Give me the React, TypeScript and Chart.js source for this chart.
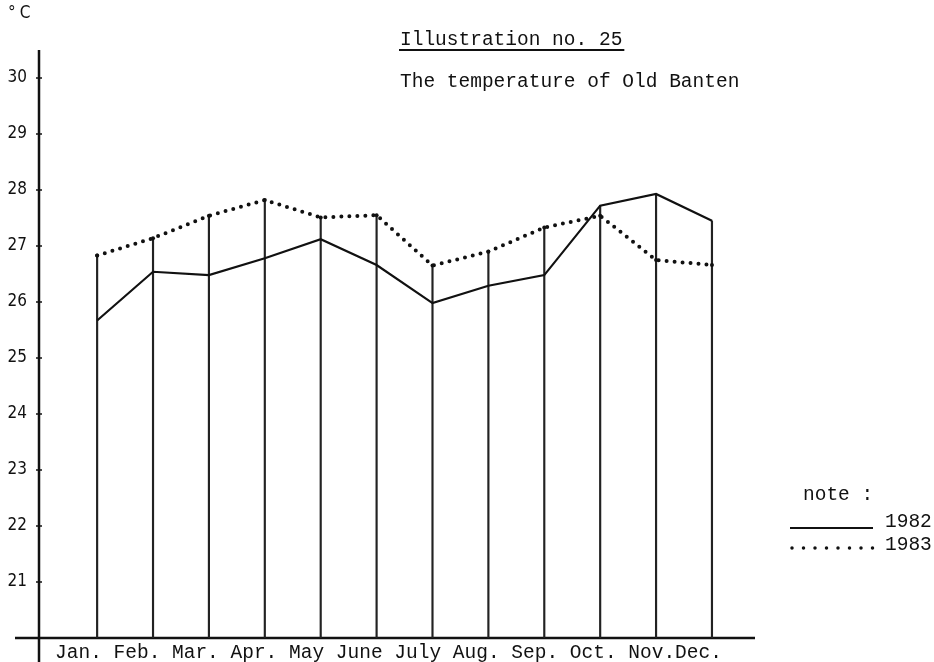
import React, { useEffect, useRef } from 'react';
import { Chart, registerables } from 'chart.js';

Chart.register(...registerables);

const MONTHS = ['Jan.', 'Feb.', 'Mar.', 'Apr.', 'May', 'June', 'July', 'Aug.', 'Sep.', 'Oct.', 'Nov.', 'Dec.'];
const TEMP_1982 = [25.67, 26.54, 26.48, 26.78, 27.12, 26.66, 25.98, 26.29, 26.48, 27.72, 27.93, 27.45];
const TEMP_1983 = [26.83, 27.14, 27.54, 27.82, 27.51, 27.55, 26.65, 26.9, 27.33, 27.54, 26.75, 26.66];
const Y_TICKS = [21, 22, 23, 24, 25, 26, 27, 28, 29, 30];
const SERIES_NAMES = ['1982', '1983'];
const TITLE = 'Illustration no. 25';
const SUBTITLE = 'The temperature of Old Banten';
const UNIT = '°C';
const LEGEND_HEAD = 'note :';
// the month labels were typed as one line on the original sheet
const TYPED_MONTH_LINE = 'Jan. Feb. Mar. Apr. May June July Aug. Sep. Oct. Nov.Dec.';

const MONO = '"Liberation Mono", "DejaVu Sans Mono", monospace';
const SANS = '"Liberation Sans Narrow", "DejaVu Sans Condensed", "Liberation Sans", sans-serif';
const INK = '#111';

// character-cell centre of each month label within the typed line
const labelCells: number[] = [];
{
  let from = 0;
  MONTHS.forEach((m) => {
    const idx = TYPED_MONTH_LINE.indexOf(m, from);
    labelCells.push(idx + m.length / 2);
    from = idx + m.length;
  });
}

const decorPlugin = {
  id: 'decor',
  beforeDatasetsDraw(chart: any) {
    const { ctx, chartArea, scales } = chart;
    const x0 = chartArea.left;
    const yb = chartArea.bottom;
    ctx.save();
    ctx.strokeStyle = INK;
    ctx.lineCap = 'butt';
    ctx.lineWidth = 2.5;
    ctx.beginPath();
    ctx.moveTo(x0, chartArea.top);
    ctx.lineTo(x0, chart.height);
    ctx.stroke();
    ctx.beginPath();
    ctx.moveTo(15, yb);
    ctx.lineTo(chartArea.right, yb);
    ctx.stroke();
    ctx.lineWidth = 1.5;
    Y_TICKS.forEach((v) => {
      const y = scales.y.getPixelForValue(v);
      ctx.beginPath();
      ctx.moveTo(x0 - 3, y);
      ctx.lineTo(x0 + 3, y);
      ctx.stroke();
    });
    ctx.restore();
  },
  afterDraw(chart: any) {
    const { ctx } = chart;
    ctx.save();
    ctx.fillStyle = INK;
    ctx.strokeStyle = INK;
    ctx.textBaseline = 'middle';
    ctx.textAlign = 'left';
    ctx.font = `17px ${SANS}`;
    (ctx as any).letterSpacing = '4px';
    ctx.fillText(UNIT, 8, 14);
    (ctx as any).letterSpacing = '0px';
    ctx.font = `19.5px ${MONO}`;
    ctx.fillText(TITLE, 400, 40);
    const tw = ctx.measureText(TITLE).width;
    ctx.lineWidth = 1.8;
    ctx.beginPath();
    ctx.moveTo(399, 50);
    ctx.lineTo(402 + tw, 50);
    ctx.stroke();
    ctx.fillText(SUBTITLE, 400, 82);
    ctx.fillText(LEGEND_HEAD, 803, 495);
    ctx.textBaseline = 'alphabetic';
    ctx.fillText(SERIES_NAMES[0], 885, 527);
    ctx.fillText(SERIES_NAMES[1], 885, 550);
    ctx.lineWidth = 2;
    ctx.beginPath();
    ctx.moveTo(790, 528);
    ctx.lineTo(873, 528);
    ctx.stroke();
    ctx.lineWidth = 3.5;
    ctx.lineCap = 'round';
    ctx.setLineDash([0, 11.5]);
    ctx.beginPath();
    ctx.moveTo(792, 548);
    ctx.lineTo(882, 548);
    ctx.stroke();
    ctx.restore();
  },
};

export default function App() {
  const ref = useRef<HTMLCanvasElement | null>(null);
  useEffect(() => {
    if (!ref.current) return;
    const chart = new Chart(ref.current, {
      type: 'line',
      data: {
        datasets: [
          {
            label: SERIES_NAMES[0],
            data: TEMP_1982.map((v, i) => ({ x: i, y: v })),
            borderColor: INK,
            borderWidth: 2.2,
            pointRadius: 0,
            tension: 0,
          },
          {
            label: SERIES_NAMES[1],
            data: TEMP_1983.map((v, i) => ({ x: i, y: v })),
            borderColor: INK,
            borderWidth: 4,
            borderDash: [0, 8],
            borderCapStyle: 'round',
            pointRadius: 2,
            pointBackgroundColor: INK,
            pointBorderWidth: 0,
            tension: 0,
          },
          {
            type: 'bar',
            label: 'drop',
            data: MONTHS.map((_, i) => ({ x: i, y: [20, Math.max(TEMP_1982[i], TEMP_1983[i])] })),
            backgroundColor: '#222',
            borderWidth: 0,
            barThickness: 1.5,
            grouped: false,
          } as any,
        ],
      },
      options: {
        animation: false,
        responsive: true,
        maintainAspectRatio: false,
        layout: { padding: { top: 50, right: 179, left: 0, bottom: 0 } },
        plugins: { legend: { display: false }, tooltip: { enabled: false }, title: { display: false } },
        scales: {
          x: {
            type: 'linear',
            offset: false,
            min: -1.04,
            max: 11.77,
            afterBuildTicks: (s: any) => {
              s.ticks = MONTHS.map((_, i) => ({ value: i }));
            },
            afterFit: (s: any) => {
              s.height = 0;
            },
            grid: { display: false, drawTicks: false, offset: false },
            border: { display: false },
            ticks: { display: false },
          },
          xl: {
            type: 'linear',
            position: 'bottom',
            offset: false,
            min: -1.37,
            max: 59.83,
            afterBuildTicks: (s: any) => {
              s.ticks = labelCells.map((c) => ({ value: c }));
            },
            afterFit: (s: any) => {
              s.height = 24;
            },
            grid: { display: false, drawTicks: false, offset: false },
            border: { display: false },
            ticks: {
              autoSkip: false,
              maxRotation: 0,
              padding: 3,
              color: INK,
              font: { family: MONO, size: 19.5 },
              callback: (_v: any, i: number) => MONTHS[i] ?? '',
            },
          },
          y: {
            min: 20,
            max: 30.5,
            afterBuildTicks: (s: any) => {
              s.ticks = Y_TICKS.map((v) => ({ value: v }));
            },
            afterFit: (s: any) => {
              s.width = 39;
            },
            grid: { display: false, drawTicks: false },
            border: { display: false },
            ticks: {
              padding: 12,
              color: INK,
              font: { family: SANS, size: 17 },
            },
          },
        },
      },
      plugins: [decorPlugin],
    } as any);
    return () => chart.destroy();
  }, []);
  return (
    <div style={{ position: 'absolute', left: 0, top: 0, width: 934, height: 662, background: '#fff' }}>
      <canvas ref={ref} />
    </div>
  );
}
